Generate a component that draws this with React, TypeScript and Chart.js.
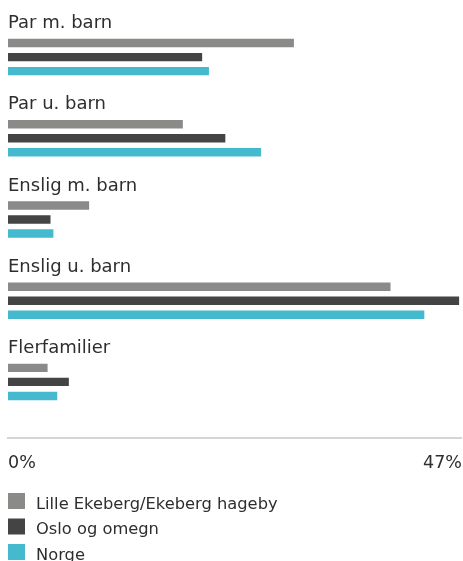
import React, { useEffect, useRef } from "react";
import { Chart, registerables } from "chart.js";

Chart.register(...registerables);

const categories = ["Par m. barn", "Par u. barn", "Enslig m. barn", "Enslig u. barn", "Flerfamilier"];
const seriesNames = ["Lille Ekeberg/Ekeberg hageby", "Oslo og omegn", "Norge"];
const lilleEkeberg = [29.6, 18.1, 8.4, 39.6, 4.1];
const osloOmegn = [20.1, 22.5, 4.4, 46.7, 6.3];
const norge = [20.8, 26.2, 4.7, 43.1, 5.1];
const axisMin = 0;
const axisMax = 47;
const tickLabels = ["0%", "47%"];
const colors = ["#8a8a89", "#444444", "#45b9cd"];

const FONT = "'DejaVu Sans', sans-serif";
const TEXT = "#2e2e2e";

const overlayPlugin = {
  id: "overlay",
  afterDraw(chart: any) {
    const ctx = chart.ctx;
    const xs = chart.scales.x;
    const ys = chart.scales.y;
    ctx.save();
    // category labels
    ctx.fillStyle = TEXT;
    ctx.font = `18px ${FONT}`;
    ctx.textBaseline = "alphabetic";
    ctx.textAlign = "left";
    categories.forEach((c, i) => {
      const cy = ys.getPixelForValue(i);
      ctx.fillText(c, xs.getPixelForValue(axisMin), cy - 29);
    });
    // axis line
    const x0 = xs.getPixelForValue(axisMin);
    const x1 = xs.getPixelForValue(axisMax);
    const lineY = chart.chartArea.bottom + 15.5;
    ctx.strokeStyle = "#ababab";
    ctx.lineWidth = 1;
    ctx.beginPath();
    ctx.moveTo(x0 - 1, lineY);
    ctx.lineTo(x1, lineY);
    ctx.stroke();
    // tick labels
    ctx.fillStyle = TEXT;
    ctx.font = `17.5px ${FONT}`;
    ctx.textAlign = "left";
    ctx.fillText(tickLabels[0], x0, lineY + 29.5);
    ctx.textAlign = "right";
    ctx.fillText(tickLabels[1], x1, lineY + 29.5);
    // legend
    ctx.textAlign = "left";
    ctx.font = `16.3px ${FONT}`;
    seriesNames.forEach((n, i) => {
      const top = lineY + 55 + i * 25.5;
      ctx.fillStyle = colors[i];
      ctx.fillRect(x0, top, 17, 16);
      ctx.fillStyle = TEXT;
      ctx.fillText(n, x0 + 28, top + 15.5);
    });
    ctx.restore();
  },
};

export default function App() {
  const ref = useRef<HTMLCanvasElement>(null);
  useEffect(() => {
    if (!ref.current) return;
    const chart = new Chart(ref.current, {
      type: "bar",
      data: {
        labels: categories,
        datasets: [
          { label: seriesNames[0], data: lilleEkeberg, backgroundColor: colors[0] },
          { label: seriesNames[1], data: osloOmegn, backgroundColor: colors[1] },
          { label: seriesNames[2], data: norge, backgroundColor: colors[2] },
        ],
      },
      options: {
        indexAxis: "y",
        animation: false,
        responsive: true,
        maintainAspectRatio: false,
        barPercentage: 0.6,
        categoryPercentage: 0.518,
        layout: { padding: { left: 8, right: 1, top: 16.5, bottom: 138.5 } },
        plugins: { legend: { display: false }, tooltip: { enabled: false } },
        scales: {
          x: { display: false, min: axisMin, max: axisMax },
          y: { display: false },
        },
      } as any,
      plugins: [overlayPlugin],
    });
    return () => chart.destroy();
  }, []);
  return (
    <div style={{ position: "absolute", left: 0, top: 0, width: 463, height: 561 }}>
      <canvas ref={ref} />
    </div>
  );
}
